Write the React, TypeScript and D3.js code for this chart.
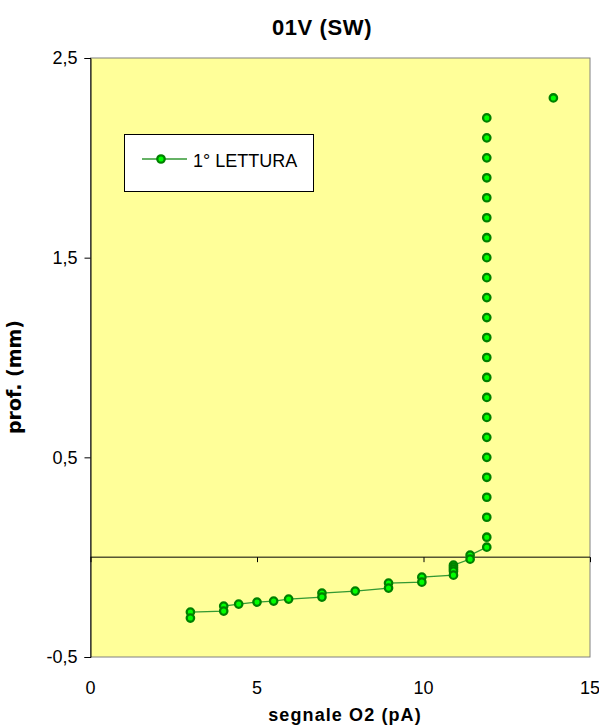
import * as d3 from "d3";
import { useEffect, useRef } from "react";

// vertical profile, markers only (x = segnale, y = prof.)
const topX = [13.9, 11.9, 11.9, 11.9, 11.9, 11.9, 11.9, 11.9, 11.9, 11.9, 11.9, 11.9, 11.9, 11.9, 11.9, 11.9, 11.9, 11.9, 11.9, 11.9, 11.9, 11.9, 11.9];
const topY = [2.3, 2.2, 2.1, 2.0, 1.9, 1.8, 1.7, 1.6, 1.5, 1.4, 1.3, 1.2, 1.1, 1.0, 0.9, 0.8, 0.7, 0.6, 0.5, 0.4, 0.3, 0.2, 0.1];

// lower part, joined by the line
const lowX = [11.9, 11.4, 11.4, 10.9, 10.9, 10.9, 10.9, 10.9, 9.95, 9.95, 8.95, 8.95, 7.95, 6.95, 6.95, 5.95, 5.5, 5, 4.45, 4, 4, 3, 3];
const lowY = [0.05, 0.01, -0.01, -0.04, -0.05, -0.06, -0.07, -0.09, -0.1, -0.125, -0.13, -0.155, -0.17, -0.18, -0.2, -0.21, -0.22, -0.225, -0.235, -0.245, -0.27, -0.275, -0.305];

const xTicks = [0, 5, 10, 15];
const yTicks = [-0.5, 0.5, 1.5, 2.5];
const seriesName = "1° LETTURA";

export default function App() {
  const ref = useRef<SVGSVGElement>(null);

  useEffect(() => {
    const svg = d3.select(ref.current);
    svg.selectAll("*").remove();
    const font = "'Liberation Sans', Arial, sans-serif";
    const left = 90.5, right = 590, top = 58, bottom = 657;
    const lineCol = "#339933", markFill = "#00ff00", markStroke = "#008000";

    const x = d3.scaleLinear().domain([0, 15]).range([left, right]);
    const y = d3.scaleLinear().domain([-0.5, 2.5]).range([bottom, top]);

    svg.append("rect").attr("width", 599).attr("height", 726).attr("fill", "#fff");

    svg.append("rect")
      .attr("x", left).attr("y", top)
      .attr("width", right - left).attr("height", bottom - top)
      .attr("fill", "#ffff99").attr("stroke", "#808080").attr("stroke-width", 1);

    // y axis
    const ya = svg.append("g").attr("transform", `translate(${left},0)`)
      .call(d3.axisLeft(y).tickValues(yTicks).tickSize(6).tickPadding(7)
        .tickFormat(d => d3.format(".1f")(d as number).replace(".", ",").replace("−", "-")));
    ya.select(".domain").attr("stroke", "#000");
    ya.selectAll("line").attr("stroke", "#000");
    ya.selectAll("text").attr("font-family", font).attr("font-size", 18).attr("fill", "#000");

    // x axis crossing at y = 0, labels low
    const xa = svg.append("g").attr("transform", `translate(0,${y(0)})`)
      .call(d3.axisBottom(x).tickValues(xTicks).tickSize(5).tickFormat(() => ""));
    xa.select(".domain").remove();
    xa.selectAll("line").attr("stroke", "#000");
    svg.append("line")
      .attr("x1", left).attr("x2", right)
      .attr("y1", y(0)).attr("y2", y(0))
      .attr("stroke", "#000").attr("stroke-width", 1);

    svg.selectAll(".xl").data(xTicks).enter().append("text")
      .attr("x", d => x(d)).attr("y", 694)
      .attr("text-anchor", "middle")
      .attr("font-family", font).attr("font-size", 18)
      .text(d => d);

    // line + markers
    const low = lowX.map((v, i) => [v, lowY[i]] as [number, number]);
    const hi = topX.map((v, i) => [v, topY[i]] as [number, number]);
    svg.append("path")
      .datum(low)
      .attr("d", d3.line<[number, number]>().x(d => x(d[0])).y(d => y(d[1])))
      .attr("fill", "none").attr("stroke", lineCol).attr("stroke-width", 1.3);

    svg.selectAll(".pt").data(low.concat(hi)).enter().append("circle")
      .attr("cx", d => x(d[0])).attr("cy", d => y(d[1]))
      .attr("r", 3.7)
      .attr("fill", markFill).attr("stroke", markStroke).attr("stroke-width", 2.3);

    // titles
    svg.append("text").attr("x", 322).attr("y", 35)
      .attr("text-anchor", "middle").attr("font-family", font)
      .attr("font-size", 22).attr("font-weight", "bold").attr("letter-spacing", 0.6)
      .text("01V (SW)");
    svg.append("text").attr("x", 345).attr("y", 721)
      .attr("text-anchor", "middle").attr("font-family", font)
      .attr("font-size", 18).attr("font-weight", "bold").attr("letter-spacing", 1.1)
      .text("segnale O2 (pA)");
    svg.append("text").attr("transform", "translate(21,377) rotate(-90)")
      .attr("text-anchor", "middle").attr("font-family", "'DejaVu Sans', Verdana, sans-serif")
      .attr("font-size", 19).attr("font-weight", "bold")
      .text("prof. (mm)");

    // legend
    const lg = svg.append("g");
    lg.append("rect").attr("x", 124.5).attr("y", 134.5).attr("width", 189).attr("height", 57)
      .attr("fill", "#fff").attr("stroke", "#000");
    lg.append("line").attr("x1", 142).attr("x2", 187).attr("y1", 159).attr("y2", 159)
      .attr("stroke", lineCol).attr("stroke-width", 1.3);
    lg.append("circle").attr("cx", 161).attr("cy", 159).attr("r", 3.7)
      .attr("fill", markFill).attr("stroke", markStroke).attr("stroke-width", 2.3);
    lg.append("text").attr("x", 193).attr("y", 167)
      .attr("font-family", font).attr("font-size", 18).text(seriesName);
  }, []);

  return (
    <svg ref={ref} width={599} height={726}
      style={{ display: "block", position: "absolute", left: 0, top: 0 }} />
  );
}
